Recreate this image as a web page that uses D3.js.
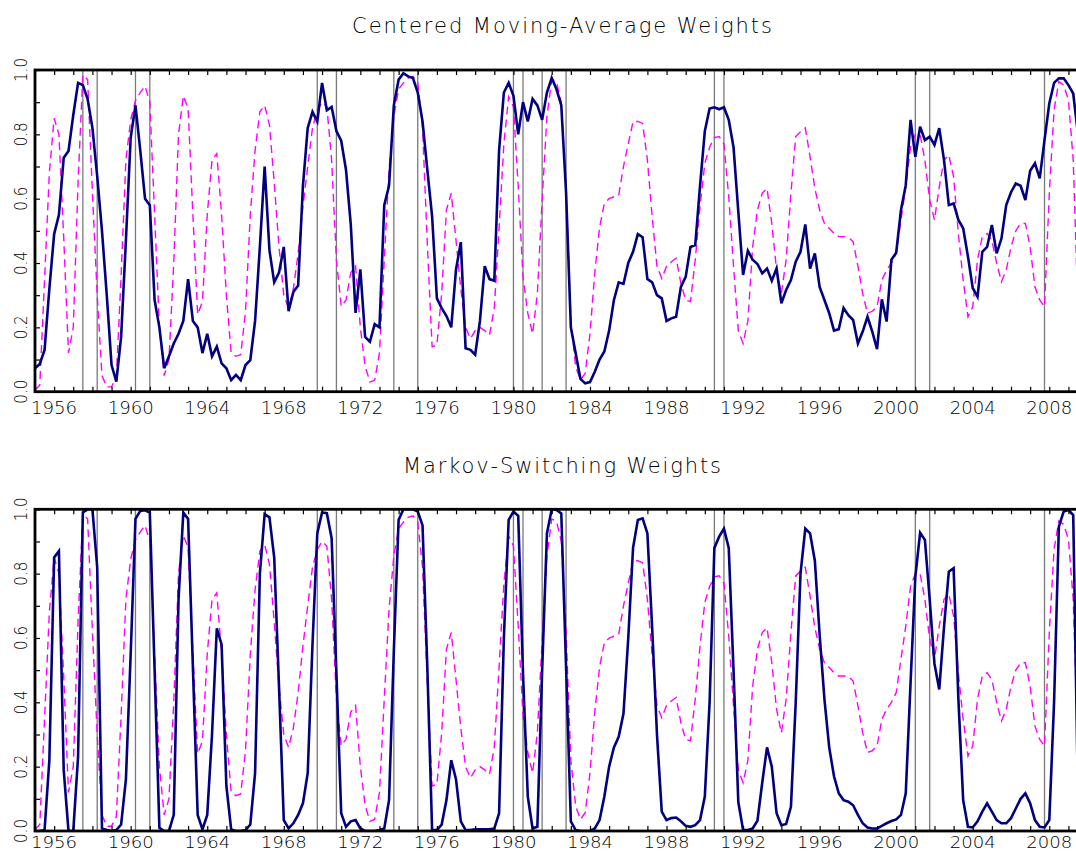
<!DOCTYPE html>
<html>
<head>
<meta charset="utf-8">
<script src="https://cdn.jsdelivr.net/npm/d3@7"></script>
<style>
html,body{margin:0;padding:0;background:#fff;}
svg{display:block;}
text{font-family:"DejaVu Sans",sans-serif;fill:#000;}
</style>
</head>
<body>
<svg id="chart" width="1076" height="852"></svg>
<script>
// ---- data (quarterly, starting 1955Q1) ----
const startYear = 1955;
const titles = ["Centered Moving-Average Weights", "Markov-Switching Weights"];
const yTickLabels = ["0.0", "0.2", "0.4", "0.6", "0.8", "1.0"];
const xTickLabels = ["1956","1960","1964","1968","1972","1976","1980","1984","1988","1992","1996","2000","2004","2008"];
const recessionDates = [1957.5, 1958.25, 1960.25, 1961.0, 1969.75, 1970.75, 1973.75, 1975.0,
  1980.0, 1980.5, 1981.5, 1982.75, 1990.5, 1991.0, 2001.0, 2001.75, 2007.75];

const cmaWeights = [
  0.073,0.086,0.13,0.32, 0.49,0.55,0.727,0.748, 0.86,0.96,0.953,0.91, 0.82,0.67,0.50,0.30,
  0.083,0.031,0.17,0.47, 0.79,0.89,0.75,0.60, 0.58,0.285,0.20,0.073, 0.11,0.15,0.18,0.22,
  0.35,0.22,0.20,0.12, 0.18,0.11,0.14,0.088, 0.073,0.036,0.052,0.036, 0.083,0.098,0.22,0.45,
  0.70,0.44,0.34,0.37, 0.45,0.25,0.31,0.33, 0.64,0.82,0.87,0.84, 0.96,0.875,0.885,0.81,
  0.78,0.69,0.52,0.245, 0.38,0.17,0.155,0.21, 0.20,0.58,0.64,0.89, 0.97,0.99,0.98,0.975,
  0.93,0.84,0.69,0.545, 0.29,0.26,0.235,0.20, 0.38,0.465,0.135,0.13, 0.115,0.22,0.39,0.35,
  0.345,0.75,0.93,0.96, 0.92,0.80,0.90,0.84, 0.91,0.89,0.845,0.93, 0.975,0.94,0.89,0.62,
  0.20,0.12,0.04,0.026, 0.03,0.062,0.10,0.125, 0.19,0.285,0.34,0.335, 0.40,0.435,0.49,0.48,
  0.35,0.34,0.30,0.29, 0.22,0.228,0.233,0.326, 0.357,0.45,0.456,0.64, 0.81,0.88,0.884,0.878,
  0.884,0.845,0.76,0.56, 0.363,0.438,0.41,0.397, 0.368,0.383,0.345,0.383, 0.275,0.316,0.347,0.404,
  0.435,0.52,0.383,0.43, 0.326,0.285,0.244,0.19, 0.194,0.26,0.238,0.223, 0.15,0.187,0.233,0.187,
  0.132,0.287,0.218,0.41, 0.432,0.565,0.642,0.845, 0.73,0.824,0.782,0.793, 0.767,0.819,0.72,0.58,
  0.585,0.534,0.508,0.42, 0.322,0.295,0.435,0.45, 0.518,0.43,0.476,0.58, 0.62,0.647,0.64,0.596,
  0.687,0.71,0.663,0.782, 0.896,0.96,0.974,0.974, 0.953,0.927,0.80
];

const msWeights = [
  0.0,0.0,0.003,0.22, 0.85,0.87,0.19,0.0, 0.0,0.23,0.99,1.0, 1.0,0.82,0.008,0.003,
  0.0,0.003,0.02,0.16, 0.55,0.97,0.995,0.997, 0.99,0.50,0.01,0.0, 0.0,0.05,0.72,0.99,
  0.97,0.51,0.05,0.005, 0.05,0.30,0.63,0.58, 0.14,0.005,0.0,0.0, 0.003,0.02,0.18,0.80,
  0.985,0.975,0.85,0.45, 0.034,0.008,0.024,0.05, 0.086,0.18,0.58,0.925, 0.99,0.988,0.91,0.49,
  0.055,0.013,0.03,0.034, 0.008,0.0,0.0,0.0, 0.003,0.008,0.096,0.56, 0.967,1.0,1.0,1.0,
  0.993,0.95,0.51,0.003, 0.003,0.02,0.096,0.22, 0.16,0.03,0.003,0.003, 0.005,0.005,0.005,0.005,
  0.008,0.055,0.60,0.967, 0.993,0.98,0.49,0.107, 0.008,0.013,0.50,0.925, 1.0,0.998,0.987,0.51,
  0.03,0.003,0.0,0.0, 0.0,0.008,0.034,0.107, 0.20,0.26,0.293,0.365, 0.60,0.88,0.967,0.972,
  0.925,0.63,0.30,0.06, 0.034,0.04,0.042,0.03, 0.016,0.013,0.018,0.034, 0.107,0.40,0.88,0.915,
  0.94,0.88,0.50,0.09, 0.003,0.003,0.008,0.032, 0.15,0.26,0.20,0.055, 0.018,0.022,0.075,0.40,
  0.80,0.94,0.925,0.84, 0.61,0.41,0.26,0.17, 0.117,0.096,0.091,0.08, 0.05,0.024,0.011,0.008,
  0.008,0.016,0.024,0.031, 0.036,0.05,0.117,0.46, 0.79,0.927,0.905,0.72, 0.52,0.44,0.635,0.806,
  0.817,0.41,0.096,0.013, 0.011,0.03,0.06,0.086, 0.06,0.034,0.024,0.024, 0.04,0.07,0.10,0.117,
  0.086,0.034,0.013,0.011, 0.034,0.40,0.946,0.993, 0.998,0.982,0.10
];

const benchmarkWeights = [
  0.005,0.02,0.35,0.68, 0.85,0.80,0.48,0.12, 0.20,0.65,0.985,0.97, 0.62,0.30,0.05,0.015,
  0.015,0.045,0.36,0.72, 0.845,0.905,0.93,0.95, 0.90,0.55,0.20,0.05, 0.10,0.40,0.80,0.92,
  0.88,0.55,0.24,0.28, 0.55,0.72,0.74,0.55, 0.30,0.12,0.11,0.115, 0.25,0.55,0.75,0.87,
  0.89,0.83,0.65,0.45, 0.30,0.26,0.32,0.43, 0.575,0.70,0.82,0.875, 0.90,0.886,0.72,0.41,
  0.265,0.285,0.37,0.39, 0.20,0.08,0.03,0.036, 0.12,0.41,0.69,0.855, 0.94,0.96,0.975,0.98,
  0.96,0.82,0.46,0.14, 0.145,0.305,0.565,0.617, 0.47,0.32,0.20,0.165, 0.19,0.20,0.19,0.176,
  0.26,0.51,0.77,0.917, 0.886,0.637,0.357,0.244, 0.18,0.305,0.596,0.855, 0.97,0.963,0.90,0.62,
  0.22,0.078,0.036,0.057, 0.18,0.37,0.51,0.585, 0.60,0.606,0.611,0.70, 0.77,0.84,0.84,0.834,
  0.72,0.544,0.39,0.352, 0.39,0.404,0.415,0.337, 0.285,0.28,0.41,0.575, 0.71,0.76,0.79,0.793,
  0.77,0.606,0.39,0.19, 0.15,0.22,0.45,0.565, 0.617,0.632,0.523,0.378, 0.305,0.41,0.617,0.793,
  0.808,0.82,0.73,0.632, 0.565,0.523,0.508,0.492, 0.482,0.482,0.48,0.466, 0.39,0.305,0.244,0.25,
  0.264,0.347,0.378,0.40, 0.43,0.534,0.637,0.76, 0.80,0.80,0.72,0.596, 0.534,0.637,0.72,0.736,
  0.668,0.49,0.347,0.233, 0.264,0.41,0.482,0.492, 0.47,0.40,0.342,0.378, 0.45,0.50,0.523,0.523,
  0.45,0.326,0.285,0.264, 0.617,0.876,0.964,0.953, 0.907,0.72,0.25
];

// ---- layout ----
const svg = d3.select("#chart");
const xLeft = 35, xRight = 1078;
const panels = [
  {title: titles[0], series: cmaWeights, top: 70, bottom: 391.7, titleY: 33, labelY: 414, labelSize: 18},
  {title: titles[1], series: msWeights, top: 509.3, bottom: 831, titleY: 473, labelY: 847.5, labelSize: 16}
];
const titleWidths = [420, 318];

const x = d3.scaleLinear().domain([1955, 2009.5]).range([xLeft, xRight]);
const quarterDate = i => startYear + i / 4;

panels.forEach((p, pi) => {
  const y = d3.scaleLinear().domain([0, 1]).range([p.bottom, p.top]);
  const g = svg.append("g");
  const clipId = "clip" + pi;
  svg.append("clipPath").attr("id", clipId).append("rect")
    .attr("x", xLeft).attr("y", p.top).attr("width", xRight - xLeft).attr("height", p.bottom - p.top);

  // title
  svg.append("text").attr("x", 562).attr("y", p.titleY).attr("text-anchor", "middle")
    .attr("font-size", 21).attr("font-weight", 200)
    .attr("textLength", titleWidths[pi]).attr("lengthAdjust", "spacing")
    .text(p.title);

  // recession lines
  g.append("g").selectAll("line").data(recessionDates).join("line")
    .attr("x1", d => x(d)).attr("x2", d => x(d))
    .attr("y1", p.top).attr("y2", p.bottom)
    .attr("stroke", "#7a7a7a").attr("stroke-width", 1.3);

  const line = d3.line().x((d, i) => x(quarterDate(i))).y(d => y(d));
  const lg = g.append("g").attr("clip-path", `url(#${clipId})`);
  lg.append("path").datum(benchmarkWeights).attr("d", line)
    .attr("fill", "none").attr("stroke", "#ff00ff").attr("stroke-width", 1.4)
    .attr("stroke-dasharray", "8,5");
  lg.append("path").datum(p.series).attr("d", line)
    .attr("fill", "none").attr("stroke", "#000080").attr("stroke-width", 2.6)
    .attr("stroke-linejoin", "miter");

  // axes with inward ticks
  const yearTicks = d3.range(1955, 2010);
  const xBottom = d3.axisBottom(x).tickValues(yearTicks).tickSize(-5).tickFormat("");
  const xTop = d3.axisTop(x).tickValues(yearTicks).tickSize(-5).tickFormat("");
  const yLeft = d3.axisLeft(y).tickValues(d3.range(0, 1.01, 0.1)).tickSize(-5).tickFormat("");
  const gb = g.append("g").attr("transform", `translate(0,${p.bottom})`).call(xBottom);
  const gt = g.append("g").attr("transform", `translate(0,${p.top})`).call(xTop);
  const gl = g.append("g").attr("transform", `translate(${xLeft},0)`).call(yLeft);
  [gb, gt, gl].forEach(a => {
    a.select(".domain").remove();
    a.selectAll(".tick line").attr("stroke", "#000").attr("stroke-width", 1.2);
  });

  // frame
  g.append("rect").attr("x", xLeft).attr("y", p.top).attr("width", xRight - xLeft)
    .attr("height", p.bottom - p.top).attr("fill", "none").attr("stroke", "#000").attr("stroke-width", 2.8);

  // x tick labels
  g.append("g").selectAll("text").data(xTickLabels).join("text")
    .attr("x", d => x(+d)).attr("y", p.labelY).attr("text-anchor", "middle")
    .attr("font-size", p.labelSize).attr("font-weight", 200)
    .attr("textLength", 46).attr("lengthAdjust", "spacingAndGlyphs")
    .attr("fill", "#222")
    .text(d => d);

  // y tick labels (rotated)
  g.append("g").selectAll("text").data(yTickLabels).join("text")
    .attr("transform", d => `translate(27,${y(+d)}) rotate(-90)`)
    .attr("text-anchor", "middle")
    .attr("font-size", 17).attr("font-weight", 200)
    .attr("textLength", 24).attr("lengthAdjust", "spacingAndGlyphs")
    .attr("fill", "#222")
    .text(d => d);
});
</script>
</body>
</html>
